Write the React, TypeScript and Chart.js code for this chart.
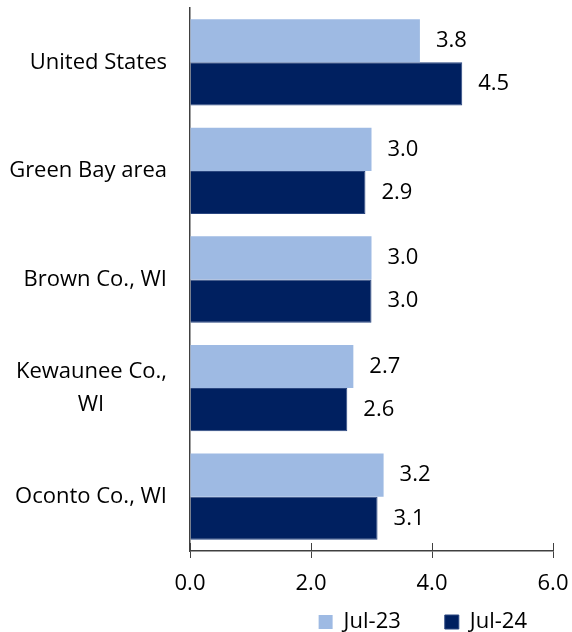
import React, { useEffect, useRef } from "react";
import { Chart, registerables } from "chart.js";

Chart.register(...registerables);

// ---- data ----
const categories: (string | string[])[] = [
  "United States",
  "Green Bay area",
  "Brown Co., WI",
  ["Kewaunee Co.,", "WI"],
  "Oconto Co., WI",
];
const seriesNames = ["Jul-23", "Jul-24"];
const jul23 = [3.8, 3.0, 3.0, 2.7, 3.2];
const jul24 = [4.5, 2.9, 3.0, 2.6, 3.1];
const xMin = 0;
const xMax = 6;
const xStep = 2;

// ---- styles ----
const FONT = "'Open Sans', sans-serif";
const FONT_SIZE = 22;
const LIGHT = "#9EBAE3";
const DARK = "#002060";
const DARK_EDGE = "#2A4680";
const AXIS = "#404040";
const TEXT = "#000000";
const LEGEND_PAD = 44;
const X_AXIS_H = 50;

let measureCtx: CanvasRenderingContext2D | null = null;
function centerLines(label: string | string[]): string | string[] {
  if (!Array.isArray(label)) return label;
  if (!measureCtx) measureCtx = document.createElement("canvas").getContext("2d");
  if (!measureCtx) return label;
  measureCtx.font = `${FONT_SIZE}px ${FONT}`;
  const widths = label.map((l) => measureCtx!.measureText(l).width);
  const maxW = Math.max(...widths);
  const sp = measureCtx.measureText(" ").width;
  return label.map((l, i) => l + " ".repeat(Math.round((maxW - widths[i]) / 2 / sp)));
}

const valueLabels = {
  id: "valueLabels",
  afterDatasetsDraw(chart: any) {
    const ctx = chart.ctx;
    ctx.save();
    ctx.font = `${FONT_SIZE}px ${FONT}`;
    ctx.fillStyle = TEXT;
    ctx.textAlign = "left";
    ctx.textBaseline = "middle";
    chart.data.datasets.forEach((ds: any, di: number) => {
      const meta = chart.getDatasetMeta(di);
      meta.data.forEach((bar: any, i: number) => {
        const v = Number(ds.data[i]);
        ctx.fillText(v.toFixed(1), bar.x + 16, bar.y);
      });
    });
    ctx.restore();
  },
};

const crossTicks = {
  id: "crossTicks",
  afterDraw(chart: any) {
    const sx = chart.scales.x;
    const ctx = chart.ctx;
    ctx.save();
    ctx.strokeStyle = AXIS;
    ctx.lineWidth = 1;
    sx.ticks.forEach((t: any) => {
      const px = Math.round(sx.getPixelForValue(t.value)) + 0.5;
      ctx.beginPath();
      ctx.moveTo(px, sx.top - 8);
      ctx.lineTo(px, sx.top);
      ctx.stroke();
    });
    ctx.restore();
  },
};

const legendPlacer = {
  id: "legendPlacer",
  afterLayout(chart: any) {
    const lg = chart.legend;
    if (!lg) return;
    const h = lg.height;
    lg.top = chart.height - 10 - (LEGEND_PAD + FONT_SIZE / 2);
    lg.bottom = lg.top + h;
  },
};

export default function App() {
  const canvasRef = useRef<HTMLCanvasElement | null>(null);

  useEffect(() => {
    if (!canvasRef.current) return;
    const chart = new Chart(canvasRef.current, {
      type: "bar",
      data: {
        labels: categories as any,
        datasets: [
          {
            label: seriesNames[0],
            data: jul23,
            backgroundColor: LIGHT,
            borderColor: LIGHT,
            borderWidth: 0,
            categoryPercentage: 0.795,
            barPercentage: 1,
          },
          {
            label: seriesNames[1],
            data: jul24,
            backgroundColor: DARK,
            borderColor: DARK_EDGE,
            borderWidth: 1,
            categoryPercentage: 0.795,
            barPercentage: 1,
          },
        ],
      },
      options: {
        responsive: false,
        animation: false,
        devicePixelRatio: 1,
        indexAxis: "y",
        layout: { padding: { top: 8, left: 0, right: 1, bottom: -45 } },
        plugins: {
          legend: {
            position: "bottom",
            align: "end",
            labels: {
              font: { family: FONT, size: FONT_SIZE },
              color: TEXT,
              boxWidth: 14,
              boxHeight: 14,
              padding: LEGEND_PAD,
            },
          },
          tooltip: { enabled: false },
        },
        scales: {
          x: {
            min: xMin,
            max: xMax,
            ticks: {
              stepSize: xStep,
              callback: (v: any) => Number(v).toFixed(1),
              font: { family: FONT, size: FONT_SIZE },
              color: TEXT,
              padding: 13,
            },
            grid: {
              drawOnChartArea: false,
              drawTicks: true,
              tickLength: 7,
              color: AXIS,
              lineWidth: 1,
            },
            border: { display: true, color: AXIS, width: 1.5 },
            afterFit: (s: any) => {
              s.height = X_AXIS_H;
              s.paddingLeft = 0;
              s.paddingRight = 19;
            },
          },
          y: {
            ticks: {
              font: { family: FONT, size: FONT_SIZE, lineHeight: 1.5 },
              color: TEXT,
              padding: 23,
              callback: (_v: any, i: number) => centerLines(categories[i]),
            },
            grid: { display: false, drawTicks: false },
            border: { display: true, color: AXIS, width: 1.5 },
            afterFit: (s: any) => {
              s.width = 190;
              s.paddingTop = 0;
              s.paddingBottom = 0;
            },
          },
        },
      } as any,
      plugins: [valueLabels, crossTicks, legendPlacer],
    });
    return () => chart.destroy();
  }, []);

  return (
    <div style={{ position: "absolute", left: 0, top: 0, width: 572, height: 632, background: "#fff" }}>
      <canvas ref={canvasRef} width={572} height={632} style={{ display: "block" }} />
    </div>
  );
}
